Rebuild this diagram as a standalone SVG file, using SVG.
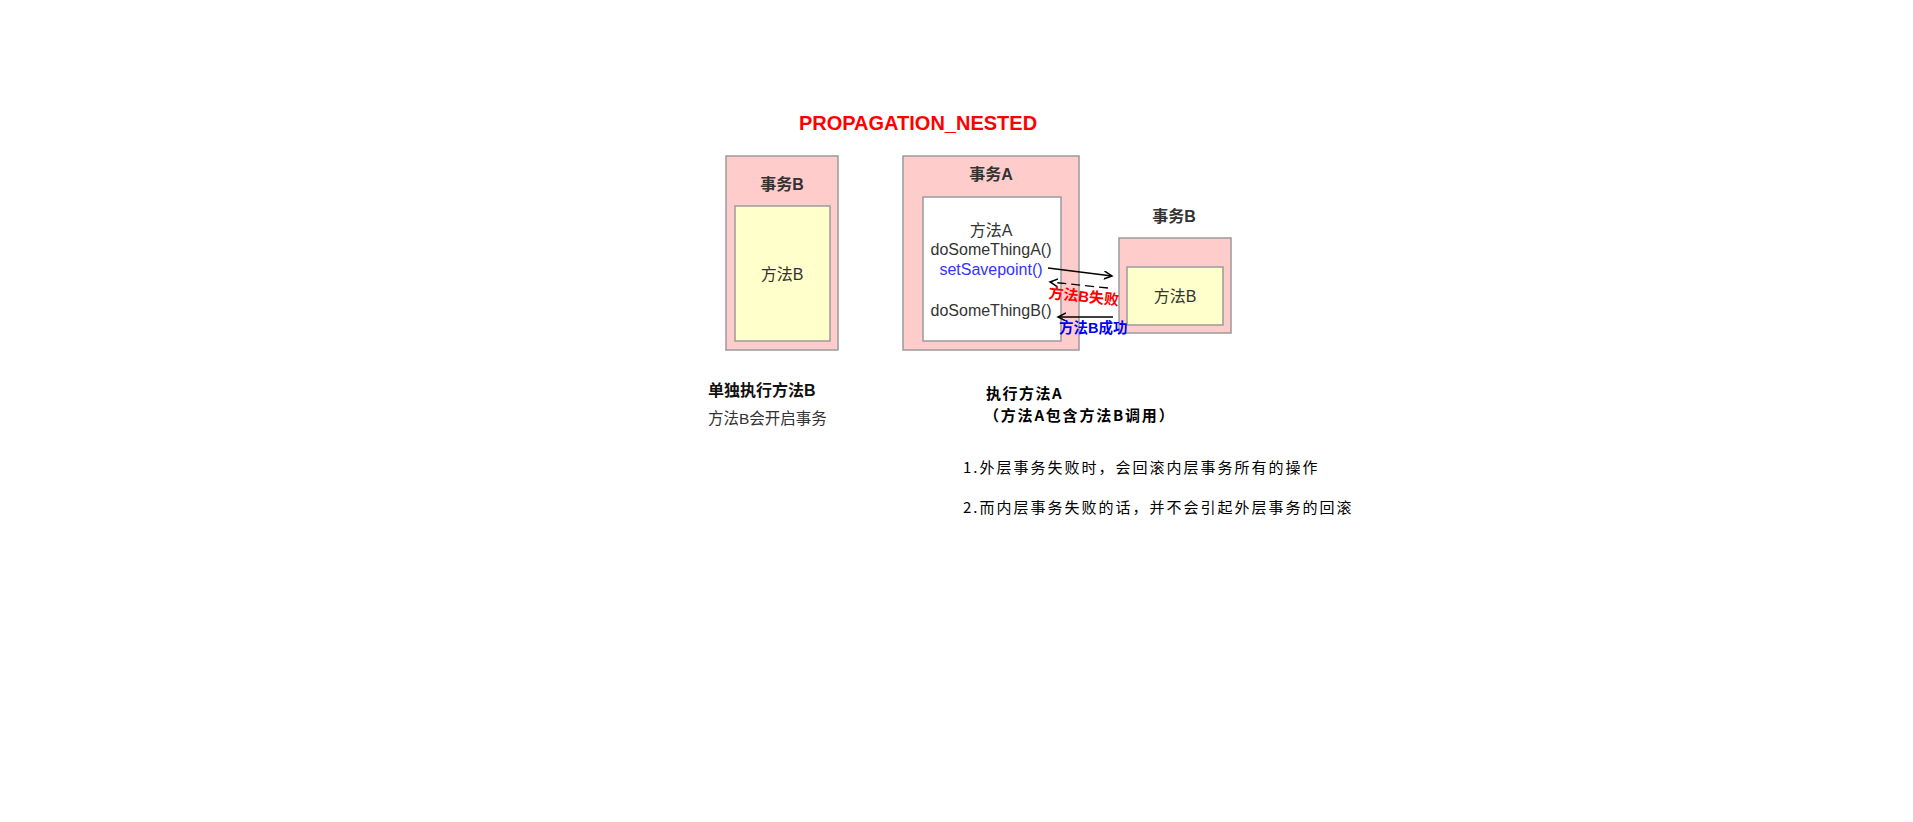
<svg xmlns="http://www.w3.org/2000/svg" width="1913" height="822" viewBox="0 0 1913 822">
<defs>
<style>
.pink{fill:#FFCCCC;stroke:#9a9a9a;stroke-width:1.5}
.yellow{fill:#FFFFCC;stroke:#9a9a9a;stroke-width:1.5}
.white{fill:#FFFFFF;stroke:#9a9a9a;stroke-width:1.5}
.t{font-family:"Liberation Sans","Noto Sans CJK SC",sans-serif;font-size:16px;fill:#333333;text-anchor:middle}
.b{font-weight:bold}
.cn{font-family:"Noto Sans CJK SC",sans-serif;fill:#000000}
.conn{stroke:#000000;stroke-width:1.3;fill:none}
</style>
<marker id="arr" markerWidth="10" markerHeight="10" refX="8" refY="4" orient="auto" markerUnits="userSpaceOnUse">
<path d="M0,0 L8,4 L0,8" fill="none" stroke="#000" stroke-width="1.5"/>
</marker>
</defs>
<rect width="1913" height="822" fill="#FFFFFF"/>
<g id="title">
<text x="918" y="130" style="font-family:'Liberation Sans',sans-serif;font-size:20px;font-weight:bold;fill:#FF0000;text-anchor:middle">PROPAGATION_NESTED</text>
</g>
<g id="txB-left">
<rect class="pink" x="726" y="156" width="112" height="194"/>
<text class="t b" x="782" y="190">事务B</text>
</g>
<g id="methodB-left">
<rect class="yellow" x="735" y="206" width="95" height="135"/>
<text class="t" x="782" y="280">方法B</text>
</g>
<g id="txA">
<rect class="pink" x="903" y="156" width="176" height="194"/>
<text class="t b" x="991" y="180">事务A</text>
</g>
<g id="methodA">
<rect class="white" x="923" y="197" width="138" height="144"/>
<text class="t" x="991" y="236">方法A</text>
<text class="t" x="991" y="255">doSomeThingA()</text>
<text class="t" x="991" y="275" style="fill:#3333FF">setSavepoint()</text>
<text class="t" x="991" y="316">doSomeThingB()</text>
</g>
<g id="txB-right">
<text class="t b" x="1174" y="222">事务B</text>
<rect class="pink" x="1119" y="238" width="112" height="95"/>
</g>
<g id="methodB-right">
<rect class="yellow" x="1127" y="267" width="96" height="58"/>
<text class="t" x="1175" y="302">方法B</text>
</g>
<g id="connectors">
<line class="conn" x1="1048" y1="268" x2="1112" y2="276" marker-end="url(#arr)"/>
<line class="conn" x1="1108" y1="288" x2="1050" y2="282" stroke-dasharray="9,5" marker-end="url(#arr)"/>
<line class="conn" x1="1113" y1="317" x2="1058" y2="317" marker-end="url(#arr)"/>
<text x="1048" y="298" transform="rotate(6 1048 298)" style="font-family:'Liberation Sans','Noto Sans CJK SC',sans-serif;font-size:15px;font-weight:bold;fill:#FF0000">方法B失败</text>
<text x="1059" y="333" style="font-family:'Liberation Sans','Noto Sans CJK SC',sans-serif;font-size:14.5px;font-weight:bold;fill:#0000FF">方法B成功</text>
</g>
<g id="notes">
<text x="708" y="396" style="font-family:'Liberation Sans','Noto Sans CJK SC',sans-serif;font-size:16px;font-weight:bold;fill:#111">单独执行方法B</text>
<text x="708" y="424" style="font-family:'Liberation Sans','Noto Sans CJK SC',sans-serif;font-size:15.5px;fill:#333">方法B会开启事务</text>
<text class="cn" x="986" y="399" style="font-size:15px;font-weight:bold;letter-spacing:1.5px">执行方法A</text>
<text class="cn" x="984" y="421" style="font-size:15px;font-weight:bold;letter-spacing:1.8px">（方法A包含方法B调用）</text>
<text class="cn" x="963" y="473" style="font-size:15px;letter-spacing:2px">1.外层事务失败时，会回滚内层事务所有的操作</text>
<text class="cn" x="963" y="513" style="font-size:15px;letter-spacing:2px">2.而内层事务失败的话，并不会引起外层事务的回滚</text>
</g>
</svg>
